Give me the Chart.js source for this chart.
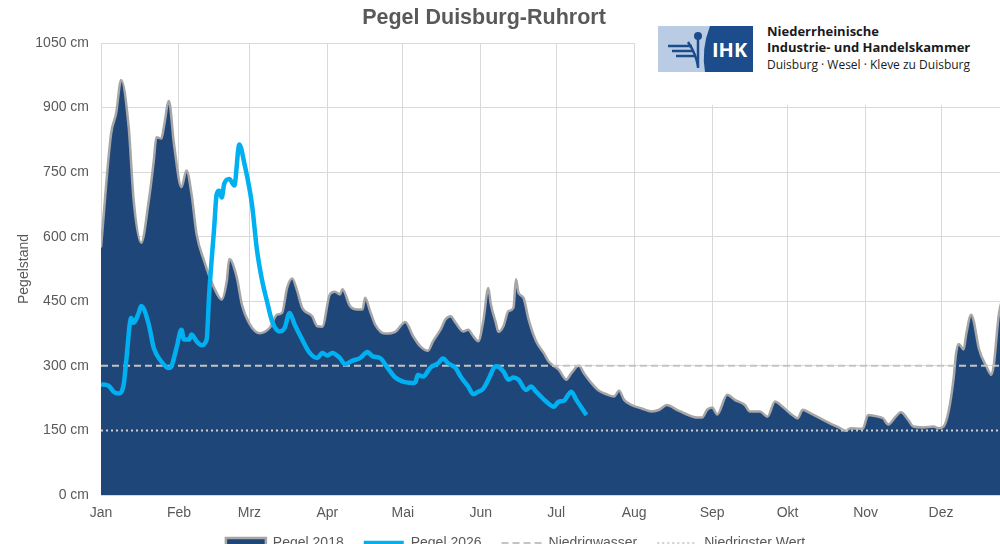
<!DOCTYPE html>
<html lang="de">
<head>
<meta charset="utf-8">
<title>Pegel Duisburg-Ruhrort</title>
<script src="https://cdn.jsdelivr.net/npm/chart.js@4.4.1/dist/chart.umd.min.js"></script>
<style>
    html, body { margin: 0; padding: 0; background: #fff; overflow: hidden; }
    #rahmen { position: relative; width: 1000px; height: 544px; overflow: hidden; }
    #pegelChart { position: absolute; left: 0; top: 0; }
    #titel {
        position: absolute; left: 0; top: 5px; width: 968px; text-align: center;
        font: bold 21.5px "Liberation Sans", Arial, sans-serif; color: #595959;
    }
    #logo { position: absolute; left: 635px; top: 0; width: 401px; height: 105px; background: #fff; }
    #logo svg { position: absolute; left: 23px; top: 26px; }
    #logo .zeile { position: absolute; left: 132px; font-family: "Open Sans", sans-serif; color: #1a1a1a; white-space: nowrap; }
    #logo .z1 { top: 22px; font-size: 13px; font-weight: bold; }
    #logo .z2 { top: 38px; font-size: 13px; font-weight: bold; }
    #logo .z3 { top: 56px; font-size: 12px; }
</style>
</head>
<body>
<div id="rahmen">
    <canvas id="pegelChart" width="1036" height="567"></canvas>
    <div id="titel">Pegel Duisburg-Ruhrort</div>
    <div id="logo">
        <svg width="95" height="46" viewBox="0 0 95 46">
            <rect x="0" y="0" width="95" height="46" fill="#b9cce4"/>
            <path d="M52,0 Q43,23 47,46 L95,46 L95,0 Z" fill="#1d4c8c"/>
            <g stroke="#1d4c8c" stroke-width="2.5" fill="none">
                <line x1="10" y1="20" x2="34" y2="20"/>
                <line x1="14" y1="25" x2="36" y2="25"/>
                <line x1="18" y1="30" x2="37" y2="30"/>
                <path d="M30,16 Q38,28 40,40"/>
                <line x1="40" y1="12" x2="40" y2="42"/>
            </g>
            <circle cx="40" cy="10" r="4" fill="#1d4c8c"/>
            <text x="54" y="31" fill="#fff" font-family="Open Sans, sans-serif" font-weight="bold" font-size="20">IHK</text>
        </svg>
        <div class="zeile z1">Niederrheinische</div>
        <div class="zeile z2">Industrie- und Handelskammer</div>
        <div class="zeile z3">Duisburg · Wesel · Kleve zu Duisburg</div>
    </div>
</div>
<script>
// Monatsanfänge (Tag im Jahr) und Beschriftungen
const monatsAnfang = [0, 31, 59, 90, 120, 151, 181, 212, 243, 273, 304, 334];
const monate = ['Jan', 'Feb', 'Mrz', 'Apr', 'Mai', 'Jun', 'Jul', 'Aug', 'Sep', 'Okt', 'Nov', 'Dez'];

// Y-Achse in cm
const yTicks = [0, 150, 300, 450, 600, 750, 900, 1050];

// Pegel 2018 (Tag im Jahr / Wasserstand in cm)
const tage2018 = [0, 4, 6, 8, 11, 13, 16, 19, 21, 22,
    24, 25, 27, 29, 32, 34, 36, 38, 41, 45,
    48, 50, 51, 54, 56, 59, 63, 67, 70, 72,
    74, 76, 78, 80, 84, 86, 88, 91, 93, 95,
    96, 99, 102, 104, 105, 107, 109, 113, 117, 121,
    124, 127, 130, 132, 135, 137, 139, 141, 144, 146,
    148, 150, 152, 154, 155, 157, 158, 160, 162, 164,
    165, 166, 168, 170, 173, 176, 178, 182, 185, 187,
    190, 192, 195, 198, 201, 204, 206, 208, 211, 215,
    219, 222, 225, 229, 233, 237, 239, 241, 243, 245,
    249, 252, 256, 258, 262, 265, 268, 271, 275, 277,
    279, 282, 286, 290, 294, 296, 298, 302, 303, 305,
    309, 311, 313, 316, 318, 321, 323, 327, 331, 333,
    335, 337, 339, 340, 341, 343, 344, 346, 347, 349,
    352, 354, 355, 357, 360, 364];
const pegel2018 = [575, 839, 886, 964, 855, 684, 586, 684, 777, 831,
    828, 855, 915, 816, 715, 754, 699, 606, 544, 481,
    454, 497, 548, 505, 443, 398, 376, 388, 419, 423,
    481, 503, 474, 435, 415, 392, 391, 466, 472, 466,
    478, 439, 431, 431, 458, 427, 396, 375, 379, 402,
    370, 345, 335, 357, 384, 408, 415, 400, 380, 384,
    369, 357, 404, 481, 443, 400, 379, 392, 427, 435,
    501, 470, 458, 408, 357, 330, 310, 291, 268, 283,
    300, 283, 260, 242, 234, 229, 242, 221, 209, 201,
    194, 198, 209, 198, 187, 180, 180, 198, 203, 187,
    233, 221, 209, 194, 194, 182, 217, 205, 185, 178,
    198, 190, 178, 166, 155, 149, 155, 154, 155, 186,
    182, 178, 164, 182, 192, 174, 159, 157, 159, 155,
    159, 194, 271, 330, 351, 338, 373, 419, 404, 341,
    299, 279, 303, 420, 470, 480];

// Pegel 2026 (bisher)
const tage2026 = [0, 3, 5, 7, 9, 10, 12, 13, 15, 16,
    19, 21, 24, 27, 28, 30, 32, 33, 35, 36,
    38, 40, 42, 43, 45, 46, 47, 48, 49, 51,
    53, 55, 57, 60, 62, 64, 66, 68, 71, 73,
    75, 77, 80, 83, 86, 88, 90, 92, 95, 97,
    100, 103, 106, 108, 111, 114, 117, 121, 124, 125,
    126, 128, 131, 134, 136, 138, 141, 143, 146, 148,
    150, 152, 154, 157, 160, 162, 164, 166, 169, 171,
    173, 177, 180, 182, 184, 187, 189, 193];
const pegel2026 = [257, 254, 240, 236, 256, 310, 411, 400, 423, 439,
    396, 341, 310, 295, 299, 341, 384, 361, 361, 373,
    357, 348, 361, 466, 621, 699, 707, 691, 723, 734,
    719, 814, 770, 676, 570, 500, 450, 404, 380, 388,
    423, 396, 361, 330, 318, 330, 324, 330, 318, 304,
    312, 318, 332, 322, 318, 295, 273, 262, 260, 262,
    279, 275, 296, 306, 317, 306, 295, 275, 252, 234,
    240, 247, 268, 299, 287, 268, 273, 268, 244, 252,
    240, 217, 205, 217, 219, 240, 221, 186];

// Referenzwerte
const niedrigwasser = 300;
const niedrigsterWert = 150;

const grau = '#595959';
Chart.defaults.font.family = '"Liberation Sans", Arial, sans-serif';
Chart.defaults.font.size = 14;
Chart.defaults.color = grau;

function punkte(tage, werte) {
    return tage.map((t, i) => ({ x: t, y: werte[i] }));
}

function waagerecht(wert) {
    return [{ x: 0, y: wert }, { x: 365, y: wert }];
}

// Legende: Linienstil (Strichelung, Breite) aus dem Datensatz übernehmen
function legendenEintraege(chart) {
    const eintraege = Chart.defaults.plugins.legend.labels.generateLabels(chart);
    eintraege.forEach(e => {
        const ds = chart.data.datasets[e.datasetIndex];
        e.pointStyle = ds.pointStyle;
        e.lineWidth = ds.borderWidth;
        e.lineDash = ds.borderDash || [];
        e.strokeStyle = ds.borderColor;
        e.fillStyle = ds.backgroundColor;
    });
    return eintraege;
}

// Legende etwas näher an die Achsenbeschriftung rücken
const legendeHoch = {
    id: 'legendeHoch',
    afterLayout(chart) {
        chart.legend.top -= 7;
        chart.legend.bottom -= 7;
    }
};

const chart = new Chart(document.getElementById('pegelChart'), {
    type: 'line',
    data: {
        datasets: [{
            label: 'Pegel 2018',
            data: punkte(tage2018, pegel2018),
            fill: 'origin',
            backgroundColor: '#1f4679',
            borderColor: '#a6a6a6',
            borderWidth: 2.5,
            pointRadius: 0,
            pointStyle: 'rect',
            cubicInterpolationMode: 'monotone',
            order: 4
        }, {
            label: 'Pegel 2026',
            data: punkte(tage2026, pegel2026),
            borderColor: '#00b0f0',
            backgroundColor: '#00b0f0',
            borderWidth: 4.5,
            pointRadius: 0,
            pointStyle: 'line',
            cubicInterpolationMode: 'monotone',
            order: 1
        }, {
            label: 'Niedrigwasser',
            data: waagerecht(niedrigwasser),
            borderColor: '#c4c4c4',
            backgroundColor: '#c4c4c4',
            borderWidth: 2,
            borderDash: [7, 4],
            pointRadius: 0,
            pointStyle: 'line',
            order: 2
        }, {
            label: 'Niedrigster Wert',
            data: waagerecht(niedrigsterWert),
            borderColor: '#cfcfcf',
            backgroundColor: '#cfcfcf',
            borderWidth: 2,
            borderDash: [2, 3],
            pointRadius: 0,
            pointStyle: 'line',
            order: 3
        }]
    },
    options: {
        responsive: false,
        animation: false,
        layout: { padding: { left: 12, right: 17, top: 43, bottom: 0 } },
        plugins: {
            legend: {
                position: 'bottom',
                labels: {
                    usePointStyle: true,
                    pointStyleWidth: 40,
                    boxHeight: 10,
                    padding: 20,
                    color: grau,
                    generateLabels: legendenEintraege,
                    sort: (a, b) => a.datasetIndex - b.datasetIndex
                }
            },
            tooltip: { enabled: false }
        },
        scales: {
            x: {
                type: 'linear',
                min: 0,
                max: 365,
                afterBuildTicks: (scale) => {
                    scale.ticks = monatsAnfang.map(v => ({ value: v }));
                },
                afterFit: (scale) => {
                    scale.height = 28;
                },
                ticks: {
                    autoSkip: false,
                    maxRotation: 0,
                    padding: 10,
                    callback: (value) => monate[monatsAnfang.indexOf(value)]
                },
                grid: { color: '#d9d9d9', drawTicks: false },
                border: { color: '#d9d9d9' }
            },
            y: {
                min: 0,
                max: 1050,
                afterBuildTicks: (scale) => {
                    scale.ticks = yTicks.map(v => ({ value: v }));
                },
                afterFit: (scale) => {
                    scale.width = 89;
                },
                ticks: {
                    padding: 12,
                    callback: (value) => value + ' cm'
                },
                grid: { color: '#d9d9d9', drawTicks: false },
                border: { display: false },
                title: { display: true, text: 'Pegelstand', color: grau }
            }
        }
    },
    plugins: [legendeHoch]
});
</script>
</body>
</html>
